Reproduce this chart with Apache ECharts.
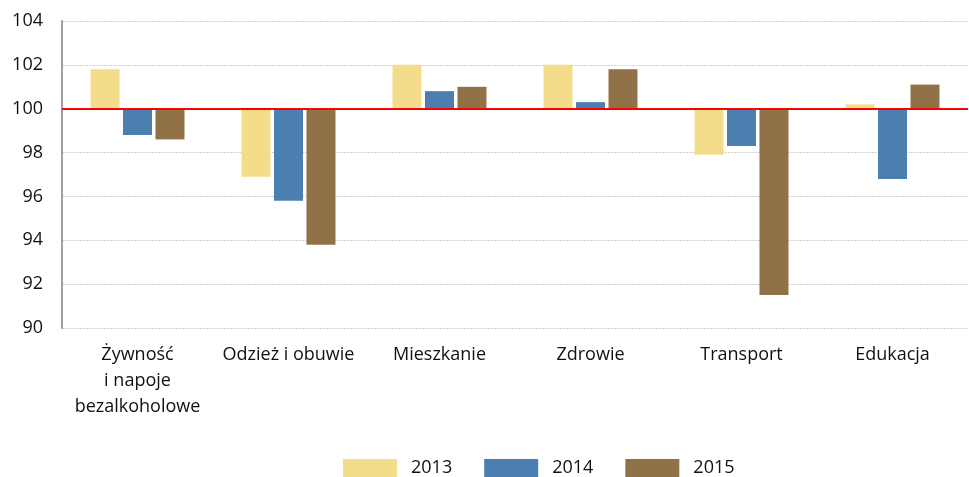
<!DOCTYPE html>
<html>
<head>
<meta charset="utf-8">
<script src="https://cdn.jsdelivr.net/npm/echarts@6/dist/echarts.min.js"></script>
<style>
  html, body { margin: 0; padding: 0; background: #fff; }
  #container { width: 969px; height: 477px; }
</style>
</head>
<body>
<div id="container"></div>
<script>
var categories = ['Żywność\ni napoje\nbezalkoholowe', 'Odzież i obuwie', 'Mieszkanie', 'Zdrowie', 'Transport', 'Edukacja'];
var years = ['2013', '2014', '2015'];
var v2013 = [101.8, 96.9, 102.0, 102.0, 97.9, 100.2];
var v2014 = [98.8, 95.8, 100.8, 100.3, 98.3, 96.8];
var v2015 = [98.6, 93.8, 101.0, 101.8, 91.5, 101.1];
var base = 100;
var colors = ['#F3DC8A', '#4A7FB0', '#917248'];

// bars grow from 100, so plot the difference and relabel the axis
function shift(arr) {
    return arr.map(function (v) { return Math.round((v - base) * 10) / 10; });
}

var font = 'Open Sans';
var myChart = echarts.init(document.getElementById('container'));
var option = {
    animation: false,
    color: colors,
    textStyle: { fontFamily: font },
    grid: { left: 62, right: 1, top: 21, bottom: 149 },
    legend: {
        data: years,
        icon: 'rect',
        left: 338,
        top: 454,
        itemWidth: 54,
        itemHeight: 18,
        itemGap: 32,
        textStyle: { fontSize: 18, color: '#111', padding: [0, 0, 0, 9], fontFamily: font }
    },
    xAxis: {
        type: 'category',
        data: categories,
        axisLine: { show: false },
        axisTick: { show: false },
        axisLabel: { fontSize: 18, color: '#111', lineHeight: 26, margin: 14, interval: 0, fontFamily: font }
    },
    yAxis: {
        type: 'value',
        min: -10,
        max: 4,
        interval: 2,
        axisLine: { show: true, lineStyle: { color: '#a0a0a0', width: 2 } },
        axisTick: { show: false },
        axisLabel: {
            fontSize: 18, color: '#111', margin: 19, fontFamily: font,
            formatter: function (v) { return String(v + base); }
        },
        splitLine: { show: true, lineStyle: { color: '#d0d0d0', type: [2, 1], width: 1 } }
    },
    series: [{
        name: years[0], type: 'bar', data: shift(v2013), barWidth: 29, barGap: '12%'
    }, {
        name: years[1], type: 'bar', data: shift(v2014), barWidth: 29, barGap: '12%'
    }, {
        name: years[2], type: 'bar', data: shift(v2015), barWidth: 29, barGap: '12%',
        markLine: {
            silent: true,
            symbol: ['none', 'none'],
            label: { show: false },
            lineStyle: { color: '#ff0000', width: 2, type: 'solid' },
            data: [{ yAxis: 0 }]
        }
    }]
};
myChart.setOption(option);
</script>
</body>
</html>
